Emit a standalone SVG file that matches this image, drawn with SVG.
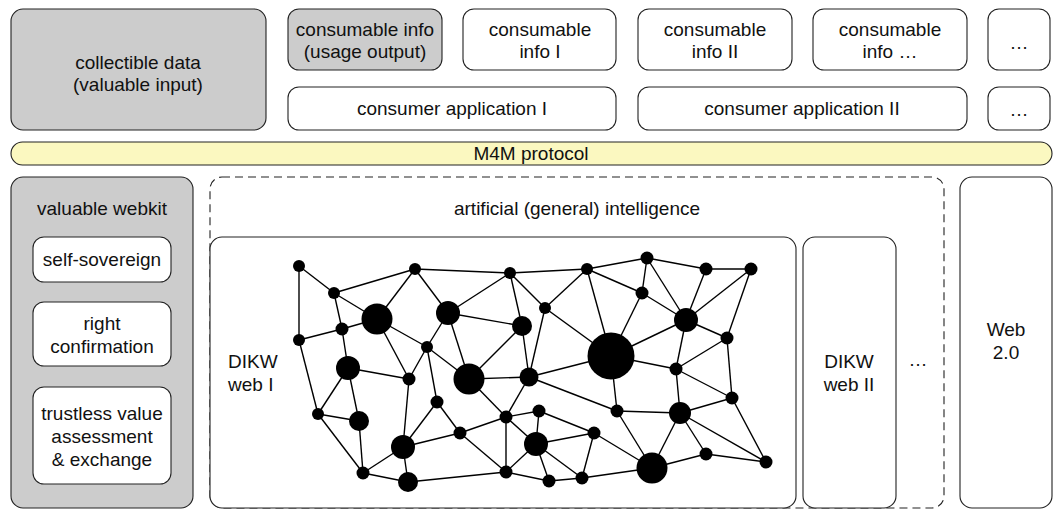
<svg xmlns="http://www.w3.org/2000/svg" width="1064" height="518" viewBox="0 0 1064 518">
<style>
.box{fill:#fff;stroke:#222;stroke-width:1.1}
.gray{fill:#cccccc;stroke:#222;stroke-width:1.1}
.yel{fill:#fbf8c0;stroke:#222;stroke-width:1.1}
.dash{fill:none;stroke:#222;stroke-width:1.1;stroke-dasharray:8,5}
text{font-family:"Liberation Sans",Arial,Helvetica,sans-serif;font-size:19px;fill:#111;text-anchor:middle}
.l{text-anchor:start}
.edges line{stroke:#000;stroke-width:1.4}
.nodes circle{fill:#000}
</style>
<rect width="1064" height="518" fill="#fff"/>
<g id="collectible"><rect class="gray" x="11" y="9" width="255" height="121" rx="12"/><text x="138" y="69">collectible data</text><text x="138" y="91">(valuable input)</text></g>
<g id="usage-output"><rect class="gray" x="288" y="9" width="154" height="61" rx="11"/><text x="365" y="36">consumable info</text><text x="365" y="58">(usage output)</text></g>
<g id="info1"><rect class="box" x="463" y="9" width="153" height="61" rx="11"/><text x="540" y="36">consumable</text><text x="540" y="58">info I</text></g>
<g id="info2"><rect class="box" x="638" y="9" width="154" height="61" rx="11"/><text x="715" y="36">consumable</text><text x="715" y="58">info II</text></g>
<g id="info3"><rect class="box" x="813" y="9" width="154" height="61" rx="11"/><text x="890" y="36">consumable</text><text x="890" y="58">info …</text></g>
<g id="info4"><rect class="box" x="988" y="9" width="62" height="61" rx="11"/><text x="1019" y="49">…</text></g>
<g id="app1"><rect class="box" x="288" y="87" width="328" height="43" rx="11"/><text x="452" y="115">consumer application I</text></g>
<g id="app2"><rect class="box" x="638" y="87" width="329" height="43" rx="11"/><text x="802" y="115">consumer application II</text></g>
<g id="app3"><rect class="box" x="988" y="87" width="62" height="43" rx="11"/><text x="1019" y="116">…</text></g>
<g id="m4m"><rect class="yel" x="11" y="142" width="1041" height="23" rx="11.5"/><text x="531" y="160">M4M protocol</text></g>
<g id="webkit"><rect class="gray" x="11" y="177" width="182" height="331" rx="12"/><text x="102" y="215">valuable webkit</text></g>
<g id="self-sovereign"><rect class="box" x="33" y="237" width="138" height="45" rx="11"/><text x="102" y="266">self-sovereign</text></g>
<g id="right-confirmation"><rect class="box" x="33" y="302" width="138" height="64" rx="11"/><text x="102" y="330">right</text><text x="102" y="353">confirmation</text></g>
<g id="trustless"><rect class="box" x="33" y="387" width="138" height="97" rx="11"/><text x="102" y="420">trustless value</text><text x="102" y="443">assessment</text><text x="102" y="466">&amp; exchange</text></g>
<g id="agi"><rect class="dash" x="210" y="177" width="734" height="331" rx="12"/><text x="577" y="215">artificial (general) intelligence</text></g>
<g id="dikw1"><rect class="box" x="210" y="237" width="586" height="271" rx="12"/><text class="l" x="228" y="368">DIKW</text><text class="l" x="228" y="391">web I</text></g>
<g id="dikw2"><rect class="box" x="803" y="237" width="93" height="271" rx="12"/><text x="849" y="368">DIKW</text><text x="849" y="391">web II</text></g>
<g id="more"><text x="918" y="366">…</text></g>
<g id="web2"><rect class="box" x="960" y="177" width="92" height="331" rx="12"/><text x="1006" y="336">Web</text><text x="1006" y="359">2.0</text></g>
<g id="connectors" class="edges">
<line x1="299" y1="266" x2="334" y2="293"/><line x1="299" y1="266" x2="299" y2="340"/><line x1="334" y1="293" x2="415" y2="269"/><line x1="334" y1="293" x2="377" y2="319"/><line x1="334" y1="293" x2="342" y2="329"/><line x1="342" y1="329" x2="377" y2="319"/><line x1="299" y1="340" x2="342" y2="329"/><line x1="415" y1="269" x2="377" y2="319"/><line x1="415" y1="269" x2="448" y2="313"/><line x1="415" y1="269" x2="510" y2="273"/><line x1="377" y1="319" x2="427" y2="347"/><line x1="377" y1="319" x2="409" y2="379"/><line x1="342" y1="329" x2="348" y2="368"/><line x1="348" y1="368" x2="409" y2="379"/><line x1="427" y1="347" x2="409" y2="379"/><line x1="427" y1="347" x2="469" y2="379"/><line x1="448" y1="313" x2="427" y2="347"/><line x1="448" y1="313" x2="469" y2="379"/><line x1="299" y1="340" x2="318" y2="414"/><line x1="427" y1="347" x2="437" y2="402"/>
<line x1="510" y1="273" x2="587" y2="269"/><line x1="587" y1="269" x2="647" y2="258"/><line x1="587" y1="269" x2="642" y2="293"/><line x1="510" y1="273" x2="448" y2="313"/><line x1="510" y1="273" x2="522" y2="326"/><line x1="510" y1="273" x2="545" y2="308"/><line x1="545" y1="308" x2="587" y2="269"/><line x1="545" y1="308" x2="529" y2="377"/><line x1="545" y1="308" x2="611" y2="356"/><line x1="448" y1="313" x2="522" y2="326"/><line x1="522" y1="326" x2="469" y2="379"/><line x1="522" y1="326" x2="529" y2="377"/><line x1="469" y1="379" x2="529" y2="377"/><line x1="529" y1="377" x2="611" y2="356"/><line x1="587" y1="269" x2="611" y2="356"/>
<line x1="647" y1="258" x2="642" y2="293"/><line x1="647" y1="258" x2="706" y2="269"/><line x1="647" y1="258" x2="686" y2="320"/><line x1="706" y1="269" x2="751" y2="269"/><line x1="706" y1="269" x2="686" y2="320"/><line x1="751" y1="269" x2="686" y2="320"/><line x1="751" y1="269" x2="727" y2="338"/><line x1="642" y1="293" x2="686" y2="320"/><line x1="642" y1="293" x2="611" y2="356"/><line x1="686" y1="320" x2="727" y2="338"/><line x1="686" y1="320" x2="611" y2="356"/><line x1="686" y1="320" x2="676" y2="369"/><line x1="611" y1="356" x2="676" y2="369"/><line x1="727" y1="338" x2="676" y2="369"/><line x1="727" y1="338" x2="732" y2="398"/><line x1="676" y1="369" x2="732" y2="398"/><line x1="676" y1="369" x2="680" y2="413"/>
<line x1="611" y1="356" x2="617" y2="411"/><line x1="617" y1="411" x2="680" y2="413"/><line x1="617" y1="411" x2="652" y2="468"/><line x1="680" y1="413" x2="652" y2="468"/><line x1="680" y1="413" x2="732" y2="398"/><line x1="680" y1="413" x2="706" y2="454"/><line x1="680" y1="413" x2="766" y2="462"/><line x1="732" y1="398" x2="766" y2="462"/><line x1="706" y1="454" x2="766" y2="462"/><line x1="706" y1="454" x2="652" y2="468"/><line x1="652" y1="468" x2="582" y2="478"/><line x1="529" y1="377" x2="617" y2="411"/><line x1="594" y1="433" x2="652" y2="468"/>
<line x1="469" y1="379" x2="506" y2="417"/><line x1="529" y1="377" x2="506" y2="417"/><line x1="506" y1="417" x2="539" y2="411"/><line x1="506" y1="417" x2="536" y2="444"/><line x1="506" y1="417" x2="506" y2="472"/><line x1="506" y1="417" x2="460" y2="433"/><line x1="460" y1="433" x2="437" y2="402"/><line x1="460" y1="433" x2="506" y2="472"/><line x1="539" y1="411" x2="536" y2="444"/><line x1="539" y1="411" x2="594" y2="433"/><line x1="536" y1="444" x2="594" y2="433"/><line x1="536" y1="444" x2="506" y2="472"/><line x1="536" y1="444" x2="549" y2="481"/><line x1="536" y1="444" x2="582" y2="478"/><line x1="594" y1="433" x2="582" y2="478"/><line x1="506" y1="472" x2="549" y2="481"/><line x1="549" y1="481" x2="582" y2="478"/><line x1="408" y1="482" x2="506" y2="472"/><line x1="460" y1="433" x2="403" y2="447"/>
<line x1="348" y1="368" x2="318" y2="414"/><line x1="348" y1="368" x2="359" y2="421"/><line x1="318" y1="414" x2="359" y2="421"/><line x1="318" y1="414" x2="363" y2="473"/><line x1="359" y1="421" x2="363" y2="473"/><line x1="363" y1="473" x2="403" y2="447"/><line x1="363" y1="473" x2="408" y2="482"/><line x1="403" y1="447" x2="408" y2="482"/><line x1="403" y1="447" x2="409" y2="379"/><line x1="403" y1="447" x2="437" y2="402"/>
</g>
<g id="network-nodes" class="nodes">
<circle cx="299" cy="266" r="6"/><circle cx="334" cy="293" r="6"/><circle cx="377" cy="319" r="15.5"/><circle cx="415" cy="269" r="6"/><circle cx="448" cy="313" r="12"/><circle cx="299" cy="340" r="6"/><circle cx="342" cy="329" r="6.5"/><circle cx="427" cy="347" r="6"/><circle cx="348" cy="368" r="12"/><circle cx="409" cy="379" r="6.5"/><circle cx="469" cy="379" r="15.5"/><circle cx="510" cy="273" r="6"/><circle cx="587" cy="269" r="6"/><circle cx="545" cy="308" r="6"/><circle cx="522" cy="326" r="10"/><circle cx="529" cy="377" r="9.5"/><circle cx="611" cy="356" r="23.5"/><circle cx="647" cy="258" r="6.5"/><circle cx="706" cy="269" r="6.5"/><circle cx="751" cy="269" r="6.5"/><circle cx="642" cy="293" r="6.5"/><circle cx="686" cy="320" r="12"/><circle cx="727" cy="338" r="6.5"/><circle cx="676" cy="369" r="6.5"/><circle cx="318" cy="414" r="6"/><circle cx="359" cy="421" r="10"/><circle cx="437" cy="402" r="6.5"/><circle cx="460" cy="433" r="6.5"/><circle cx="403" cy="447" r="12"/><circle cx="363" cy="473" r="6.5"/><circle cx="408" cy="482" r="10"/><circle cx="506" cy="417" r="6.5"/><circle cx="539" cy="411" r="6.5"/><circle cx="536" cy="444" r="12"/><circle cx="594" cy="433" r="6.5"/><circle cx="617" cy="411" r="6.5"/><circle cx="680" cy="413" r="11"/><circle cx="732" cy="398" r="6.5"/><circle cx="706" cy="454" r="6.5"/><circle cx="766" cy="462" r="6.5"/><circle cx="652" cy="468" r="15.5"/><circle cx="506" cy="472" r="6.5"/><circle cx="549" cy="481" r="6.5"/><circle cx="582" cy="478" r="6.5"/>
</g>
</svg>
